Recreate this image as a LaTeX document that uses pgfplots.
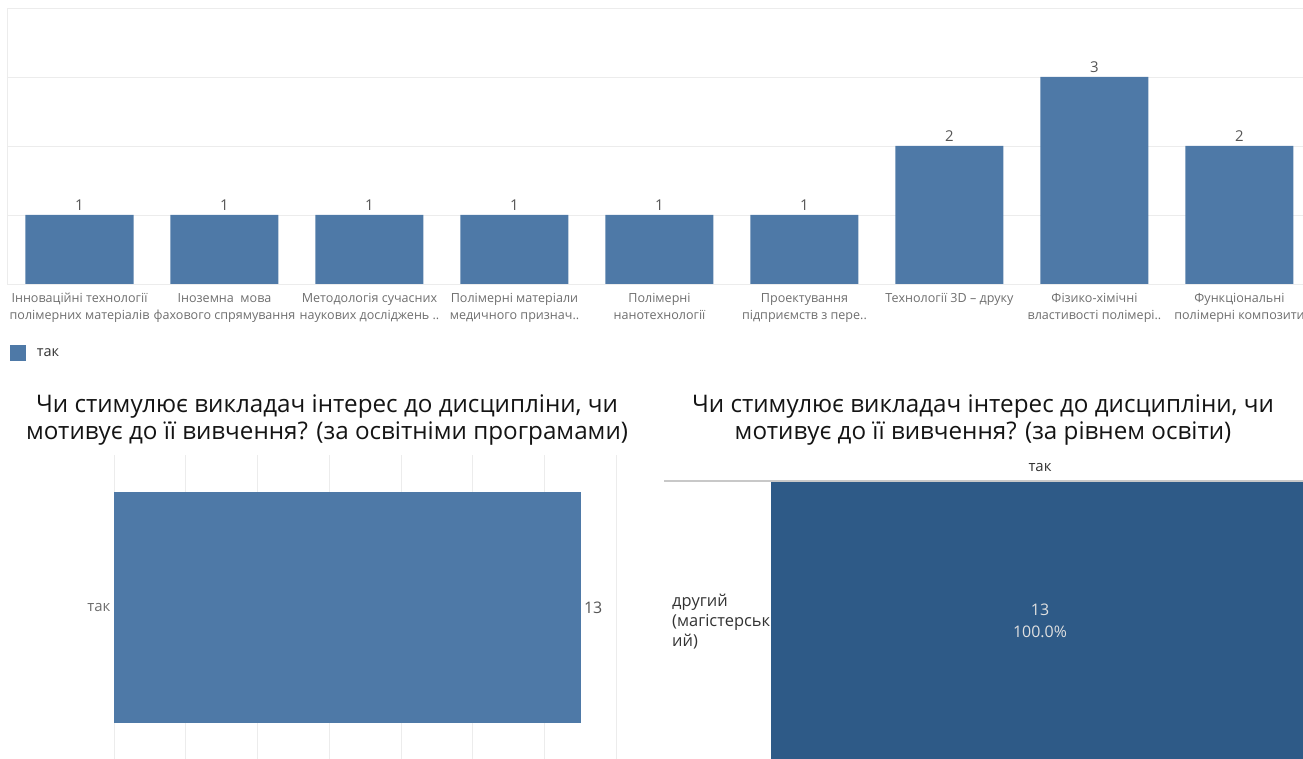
\documentclass[border=0pt]{standalone}
\usepackage{pgfplots}
\pgfplotsset{compat=1.18}
\usepackage{fontspec}
\setmainfont{Open Sans}
\pgfplotsset{/pgf/number format/assume math mode=true}
\definecolor{tblue}{RGB}{78,121,167}
\definecolor{tdark}{RGB}{46,90,135}
\definecolor{gridc}{RGB}{236,236,236}
\definecolor{lblc}{RGB}{110,110,110}
\definecolor{valc}{RGB}{85,85,85}
\definecolor{txtc}{RGB}{51,51,51}
\begin{document}
\begin{tikzpicture}[x=1bp,y=1bp]
\clip[use as bounding box] (0,0) rectangle (1303,758);
% ---------------- top chart ----------------
\begin{axis}[
  at={(7bp,474bp)}, anchor=south west, scale only axis,
  width=1305bp, height=276bp,
  xmin=-0.5, xmax=8.5, ymin=0, ymax=4,
  ybar, bar width=108bp,
  axis line style={gridc},
  ytick={0,1,2,3,4}, yticklabels={}, ymajorgrids, grid style={gridc, line width=0.8pt},
  major tick length=0pt,
  xtick=data,
  xticklabels={{Інноваційні технології\\полімерних матеріалів},
    {Іноземна\ \ мова\\фахового спрямування},
    {Методологія сучасних\\наукових досліджень ..},
    {Полімерні матеріали\\медичного признач..},
    {Полімерні\\нанотехнології},
    {Проектування\\підприємств з пере..},
    {Технології 3D – друку\\\strut},
    {Фізико-хімічні\\властивості полімері..},
    {Функціональні\\полімерні композити}},
  xticklabel style={align=center, font=\fontsize{12.6}{17}\selectfont, text=lblc, yshift=-6bp},
  nodes near coords,
  nodes near coords style={font=\fontsize{15}{15}\selectfont, text=valc, yshift=1bp},
  legend style={at={(0.002,-0.222)}, anchor=north west, draw=none, fill=none,
    font=\fontsize{14.5}{14.5}\selectfont, text=txtc, inner sep=0pt,
    cells={anchor=west}},
  legend image code/.code={\fill[tblue] (0bp,-8bp) rectangle (16bp,8bp); \path (25bp,0bp);},
]
\addplot[fill=tblue, draw=none] coordinates {(0,1) (1,1) (2,1) (3,1) (4,1) (5,1) (6,2) (7,3) (8,2)};
\legend{так}
\end{axis}
% ---------------- bottom-left chart ----------------
\node[align=center, font=\fontsize{24.3}{28}\selectfont, text=black!92] at (327,338) {Чи стимулює викладач інтерес до дисципліни, чи\\мотивує до її вивчення? (за освітніми програмами)};
\begin{axis}[
  at={(114bp,-2bp)}, anchor=south west, scale only axis,
  width=506bp, height=305bp,
  xmin=0, xmax=14.1, ymin=-0.5, ymax=0.5,
  xbar, bar width=230bp,
  axis line style={draw=none},
  xtick={0,2,...,14}, xticklabels={}, xmajorgrids, grid style={gridc, line width=0.8pt},
  major tick length=0pt,
  ytick={0}, yticklabels={так},
  yticklabel style={font=\fontsize{15}{15}\selectfont, text=lblc},
  nodes near coords,
  nodes near coords style={font=\fontsize{16}{16}\selectfont, text=valc},
  clip=false,
]
\addplot[fill=tblue, draw=none] coordinates {(13,0)};
\end{axis}
% ---------------- bottom-right chart ----------------
\node[align=center, font=\fontsize{24.3}{28}\selectfont, text=black!92] at (983,338) {Чи стимулює викладач інтерес до дисципліни, чи\\мотивує до її вивчення? (за рівнем освіти)};
\node[align=left, anchor=west, font=\fontsize{16.5}{20}\selectfont, text=txtc, inner sep=0pt] at (672,136) {другий\\(магістерськ\\ий)};
\draw[line width=1.2pt, color={rgb,255:red,200;green,200;blue,200}] (664,277) -- (1303,277);
\begin{axis}[
  at={(771bp,-2bp)}, anchor=south west, scale only axis,
  width=538bp, height=278bp,
  xmin=0, xmax=13, ymin=-0.5, ymax=0.5,
  xbar, bar width=278bp,
  axis lines=none, ticks=none,
  title={так}, title style={font=\fontsize{15}{15}\selectfont, text=txtc, at={(0.5,1)}, anchor=south, yshift=1bp},
  nodes near coords={13\\100.0\%},
  nodes near coords style={font=\fontsize{16}{22}\selectfont, text=white!88!black, align=center, anchor=center, xshift=-269bp, yshift=0bp},
  clip=false,
]
\addplot[fill=tdark, draw=none] coordinates {(13,0)};
\end{axis}
\end{tikzpicture}
\end{document}
